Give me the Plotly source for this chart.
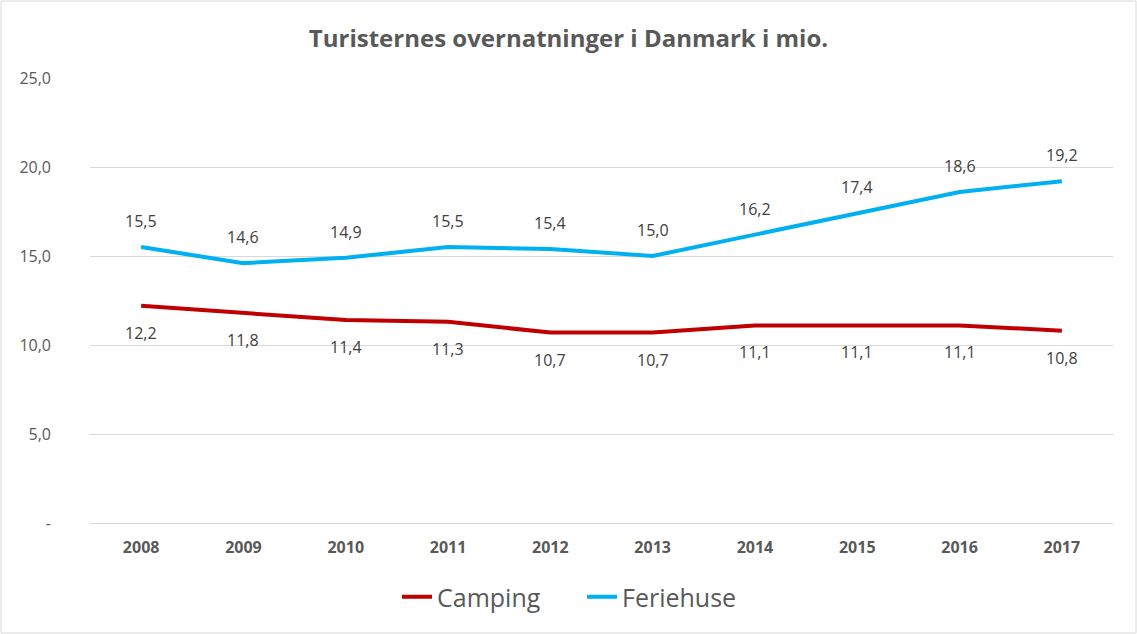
import plotly.graph_objects as go

years = ["2008", "2009", "2010", "2011", "2012", "2013", "2014", "2015", "2016", "2017"]
camping = [12.2, 11.8, 11.4, 11.3, 10.7, 10.7, 11.1, 11.1, 11.1, 10.8]
feriehuse = [15.5, 14.6, 14.9, 15.5, 15.4, 15.0, 16.2, 17.4, 18.6, 19.2]
y_ticks = [0, 5, 10, 15, 20, 25]
y_tick_labels = ["-", "5,0", "10,0", "15,0", "20,0", "25,0"]

def fmt(v):
    return f"{v:.1f}".replace(".", ",")

FONT = "Open Sans, Liberation Sans, sans-serif"
GRAY = "#595959"
LABEL = "#404040"

fig = go.Figure()
fig.add_trace(go.Scatter(
    x=years, y=camping, name="Camping", mode="lines",
    line=dict(color="#C00000", width=4),
))
fig.add_trace(go.Scatter(
    x=years, y=feriehuse, name="Feriehuse", mode="lines",
    line=dict(color="#00B0F0", width=4),
))

# data labels placed at the category index of each year
annotations = []
for i, v in enumerate(camping):
    annotations.append(dict(x=i, y=v, xref="x", yref="y", text=fmt(v), showarrow=False,
                            yshift=-27, font=dict(family=FONT, size=16, color=LABEL)))
for i, v in enumerate(feriehuse):
    annotations.append(dict(x=i, y=v, xref="x", yref="y", text=fmt(v), showarrow=False,
                            yshift=26, font=dict(family=FONT, size=16, color=LABEL)))

L, R, T, B = 90, 24, 78, 111
W, H = 1137, 634
pw = W - L - R
ph = H - T - B

fig.update_layout(
    width=W, height=H,
    margin=dict(l=L, r=R, t=T, b=B),
    paper_bgcolor="white", plot_bgcolor="white",
    title=dict(text="<b>Turisternes overnatninger i Danmark i mio.</b>",
               x=0.5, xanchor="center", y=1 - 39 / H, yanchor="middle",
               font=dict(family=FONT, size=24, color=GRAY)),
    showlegend=True,
    legend=dict(orientation="h", x=(582 - L) / pw, xanchor="center",
                y=-(597 - (H - B)) / ph, yanchor="middle",
                font=dict(family=FONT, size=25, color=GRAY),
                entrywidth=140, entrywidthmode="pixels",
                traceorder="normal"),
    xaxis=dict(type="category", categoryorder="array", categoryarray=years,
               range=[-0.5, len(years) - 0.5],
               showgrid=False, showline=True,
               linecolor="#D9D9D9", linewidth=1, ticks="",
               tickfont=dict(family=FONT, size=16, color=GRAY, weight="bold"),
               ticklabelstandoff=10),
    yaxis=dict(range=[0, 25], tickvals=y_ticks, ticktext=y_tick_labels,
               showgrid=True, gridcolor="#D9D9D9", gridwidth=1,
               zeroline=False, showline=False, ticks="",
               tickfont=dict(family=FONT, size=16, color=GRAY),
               ticklabelstandoff=38),
    annotations=annotations,
    shapes=[dict(type="rect", xref="paper", yref="paper",
                 x0=-(L - 1) / pw, x1=1 + (R - 1) / pw,
                 y0=-(B - 1) / ph, y1=1 + (T - 1) / ph,
                 line=dict(color="#D9D9D9", width=1))],
)

fig.write_html("out.html", config={"displayModeBar": False},
               post_script="document.body.style.margin='0';")
